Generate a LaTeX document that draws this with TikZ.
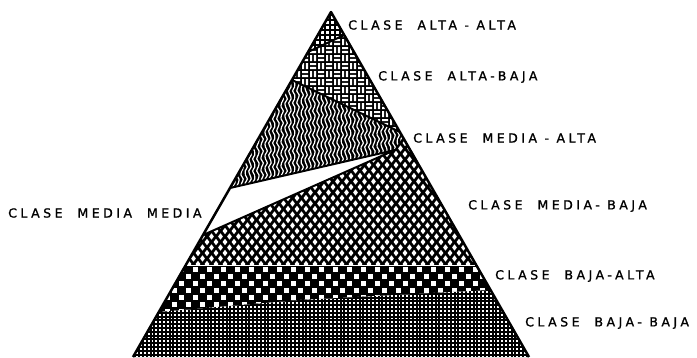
\documentclass[tikz,border=0pt]{standalone}
\usepackage{fontspec}
\newfontfamily\clasefont[LetterSpace=28,FakeBold=1.2]{DejaVu Sans}
\usetikzlibrary{calc}

\begin{document}
\begin{tikzpicture}[
        x=1pt, y=-1pt,
        edge/.style = {line width=2pt, line join=round},
        clase/.style = {anchor=west, inner sep=0pt, font=\clasefont\fontsize{12.5}{12.5}\selectfont}
    ]
    \useasboundingbox (0,0) rectangle (697,357);
    \coordinate (apex) at (331,12);
    \coordinate (bl) at (133,357);
    \coordinate (br) at (529,357);
    \coordinate (l1) at (308,52);
    \coordinate (r1) at (344.2,35);
    \coordinate (l2) at (292,80);
    \coordinate (r2) at (399.9,132);
    \coordinate (r3) at (403.3,138);
    \coordinate (tip) at (395,150);
    \coordinate (l3) at (230,188);
    \coordinate (l4) at (203,235);
    \coordinate (l5) at (185.8,265);
    \coordinate (r4) at (476.2,265);
    \coordinate (l6) at (158.8,312);
    \coordinate (mid) at (300,300);
    \coordinate (r5) at (490.5,290);

    % alta-alta
    \begin{scope}
        \clip (apex) -- (l1) -- (r1) -- cycle;
        \fill[white] (300,0) rectangle (360,60);
        \foreach \k in {0,...,14} {
            \draw[line width=1.2pt] ({300+5*\k},0) -- ++(0,60);
            \draw[line width=1.2pt] (300,{5*\k}) -- ++(60,0);
        }
    \end{scope}

    % alta-baja
    \begin{scope}
        \clip (l1) -- (r1) -- (r2) -- (l2) -- cycle;
        \fill (285,30) rectangle (405,140);
        \foreach \i in {0,...,15} \foreach \j in {0,...,14} {
            \pgfmathtruncatemacro\wv{mod(\i+\j,2)}
            \ifnum\wv=0
                \fill[white] ({285+8*\i+1},{30+8*\j+1}) rectangle ++(2.2,6) ++(1.6,-6) rectangle ++(2.2,6);
            \else
                \fill[white] ({285+8*\i+1},{30+8*\j+1}) rectangle ++(6,2.2) ++(-6,1.6) rectangle ++(6,2.2);
            \fi
        }
    \end{scope}

    % media-alta
    \begin{scope}
        \clip (l2) -- (r2) -- (r3) -- (tip) -- (l3) -- cycle;
        \fill (225,75) rectangle (410,195);
        \foreach \k in {0,...,46}
            \draw[white, line width=1.2pt] plot[variable=\t, domain=75:195, samples=31, smooth]
                ({226+4*\k+1.4*sin(30*\t+25*\k)},\t);
    \end{scope}

    % media media
    \fill[white] (l3) -- (tip) -- (l4) -- cycle;

    % media-baja
    \begin{scope}
        \clip (l4) -- (tip) -- (r3) -- (r4) -- (l5) -- cycle;
        \fill (180,130) rectangle (480,270);
        \foreach \j in {0,...,26} \foreach \i in {0,...,34} {
            \pgfmathsetmacro\dx{180+9*\i+4.5*mod(\j,2)}
            \fill[white] (\dx,{132+5.5*\j-3.2}) -- ++(2.4,3.2) -- ++(-2.4,3.2) -- ++(-2.4,-3.2) -- cycle;
        }
    \end{scope}

    % baja-alta
    \begin{scope}
        \clip (l5) -- (r4) -- (r5) -- (mid) -- (l6) -- cycle;
        \fill (150,262) rectangle (495,315);
        \foreach \j in {0,...,7} \foreach \i in {0,...,49} {
            \pgfmathtruncatemacro\wv{mod(\i+\j,2)}
            \ifnum\wv=0 \fill[white] ({150+7*\i+1},{266+7*\j+1}) rectangle ++(5.2,5.2); \fi
        }
    \end{scope}

    % baja-baja
    \begin{scope}
        \clip (l6) -- (mid) -- (r5) -- (br) -- (bl) -- cycle;
        \fill (125,285) rectangle (535,360);
        \foreach \j in {0,...,19}
            \draw[white, line width=1.8pt, dash pattern=on 1.8pt off 2pt] (125,{288+3.8*\j}) -- (535,{288+3.8*\j});
    \end{scope}

    \draw[edge] (l1) -- (r1);
    \draw[edge] (l2) -- (r2);
    \draw[edge] (l3) -- (tip) -- (l4);
    \draw[line width=1pt] (tip) -- (r3);
    \draw[white, line width=1pt] (l5) -- (r4);
    \draw[edge, line width=2.5pt] (bl) -- (apex) -- (br);

    \node[clase] (altaalta)   at (348,25)  {CLASE\ \ ALTA - ALTA};
    \node[clase] (altabaja)   at (378,77)  {CLASE\ \ ALTA-BAJA};
    \node[clase] (mediaalta)  at (413,138) {CLASE\ \ MEDIA - ALTA};
    \node[clase] (mediamedia) at (8,213)   {CLASE\ \ MEDIA\ \ MEDIA};
    \node[clase] (mediabaja)  at (468,206) {CLASE\ \ MEDIA- BAJA};
    \node[clase] (bajaalta)   at (495,276) {CLASE\ \ BAJA-ALTA};
    \node[clase] (bajabaja)   at (525,323) {CLASE\ \ BAJA- BAJA};
\end{tikzpicture}
\end{document}
